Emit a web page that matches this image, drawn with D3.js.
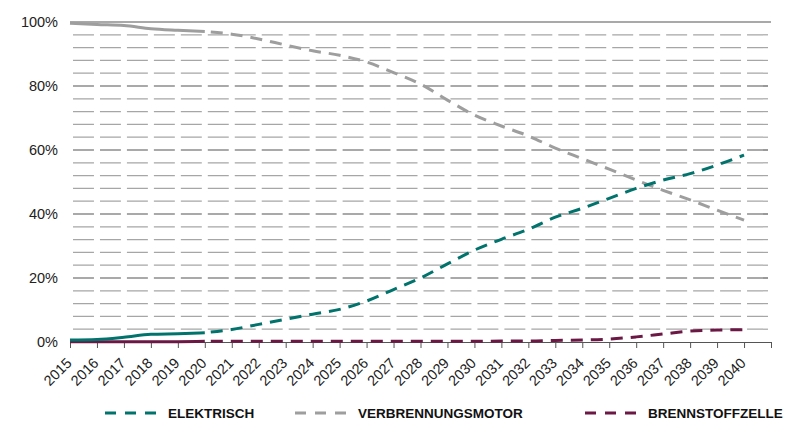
<!DOCTYPE html>
<html>
<head>
<meta charset="utf-8">
<script src="https://cdn.jsdelivr.net/npm/d3@7"></script>
<style>
  body { margin: 0; background: #fff; }
  svg { display: block; font-family: "Liberation Sans", Arial, sans-serif; }
</style>
</head>
<body>
<div id="chart"></div>
<script>
// --- Données ---
const years = d3.range(2015, 2041);
const lastActualYear = 2020;

const elektrisch = [0.6, 0.8, 1.5, 2.4, 2.6, 2.9, 3.9, 5.5, 7.1, 8.7, 10.2, 12.8, 16.4, 20.0, 24.4, 28.7,
  32.1, 35.2, 39.0, 41.8, 44.9, 48.0, 50.6, 52.6, 55.3, 58.4];
const verbrennung = [99.6, 99.2, 98.9, 97.9, 97.4, 97.0, 96.2, 94.7, 92.8, 91.0, 89.6, 87.5, 84.2, 80.6, 75.6, 70.9,
  67.5, 64.4, 60.6, 57.3, 54.0, 50.6, 47.4, 44.4, 41.2, 38.1];
const brennstoff = [0.1, 0.1, 0.1, 0.1, 0.1, 0.2, 0.2, 0.2, 0.2, 0.2, 0.2, 0.2, 0.2, 0.2, 0.2, 0.2,
  0.3, 0.3, 0.5, 0.6, 0.9, 1.6, 2.5, 3.4, 3.75, 3.85];

const seriesNames = ["ELEKTRISCH", "VERBRENNUNGSMOTOR", "BRENNSTOFFZELLE"];
const seriesColors = ["#00736d", "#9e9e9e", "#6b1845"];
const yTicks = d3.range(0, 101, 4);

// --- Dimensions ---
const W = 800, H = 448;
const margin = {top: 22, right: 29, bottom: 106, left: 70};
const width = W - margin.left - margin.right;
const height = H - margin.top - margin.bottom;

const svg = d3.select("#chart").append("svg")
  .attr("width", W).attr("height", H);
const g = svg.append("g").attr("transform", `translate(${margin.left},${margin.top})`);

// L'axe X comporte une bande de plus après 2040
const x = d3.scaleLinear().domain([2015, 2041]).range([0, width]);
const y = d3.scaleLinear().domain([0, 100]).range([height, 0]);
const band = x(2016) - x(2015);

// --- Grille ---
g.selectAll(".grid").data(yTicks.filter(d => d > 0)).join("line")
  .attr("class", "grid")
  .attr("x1", 0).attr("x2", width)
  .attr("y1", d => y(d)).attr("y2", d => y(d))
  .attr("stroke", d => d % 20 === 0 ? "#555" : "#a6a6a6")
  .attr("stroke-width", 1.2)
  .attr("stroke-dasharray", d => d === 100 ? null : `${band - 6} 6`)
  .attr("stroke-dashoffset", band - 3);

// --- Axe X ---
const xAxis = g.append("g").attr("transform", `translate(0,${height})`)
  .call(d3.axisBottom(x).tickValues(d3.range(2015, 2042)).tickSize(6).tickSizeOuter(0)
    .tickFormat(d => d <= 2040 ? d : ""));
xAxis.select(".domain").attr("stroke", "#555").attr("stroke-width", 1.2);
xAxis.selectAll(".tick line").attr("stroke", "#555");
xAxis.selectAll(".tick text")
  .attr("font-size", 14.5).attr("fill", "#222")
  .attr("text-anchor", "end")
  .attr("transform", "rotate(-45)")
  .attr("y", 9)
  .attr("dx", -14).attr("dy", 8);

// --- Axe Y ---
g.selectAll(".ylab").data(d3.range(0, 101, 20)).join("text")
  .attr("class", "ylab")
  .attr("x", -12).attr("y", d => y(d))
  .attr("dy", "0.35em")
  .attr("text-anchor", "end")
  .attr("font-size", 14.5).attr("fill", "#222")
  .text(d => d + "%");

// --- Courbes ---
const allSeries = [elektrisch, verbrennung, brennstoff];
const line = d3.line().x(d => x(d.year)).y(d => y(d.v)).curve(d3.curveMonotoneX);

// ordre de dessin : gris, bordeaux, turquoise
[1, 2, 0].forEach(i => {
  const pts = years.map((yr, k) => ({year: yr, v: allSeries[i][k]}));
  const actual = pts.filter(d => d.year <= lastActualYear);
  const forecast = pts.filter(d => d.year >= lastActualYear);
  g.append("path").datum(actual)
    .attr("d", line).attr("fill", "none")
    .attr("stroke", seriesColors[i]).attr("stroke-width", 3);
  g.append("path").datum(forecast)
    .attr("d", line).attr("fill", "none")
    .attr("stroke", seriesColors[i]).attr("stroke-width", 3)
    .attr("stroke-dasharray", "12 8").attr("stroke-dashoffset", -6);
});

// --- Légende ---
const legendX = [105, 295, 585];
const legend = svg.selectAll(".legend").data(seriesNames).join("g")
  .attr("class", "legend")
  .attr("transform", (d, i) => `translate(${legendX[i]},413)`);
legend.append("line")
  .attr("x1", 0).attr("x2", 53).attr("y1", 0).attr("y2", 0)
  .attr("stroke", (d, i) => seriesColors[i]).attr("stroke-width", 3)
  .attr("stroke-dasharray", "11 9");
legend.append("text")
  .attr("x", 63).attr("y", 0).attr("dy", "0.35em")
  .attr("font-size", 13.5).attr("font-weight", "bold").attr("fill", "#111")
  .text(d => d);
</script>
</body>
</html>
